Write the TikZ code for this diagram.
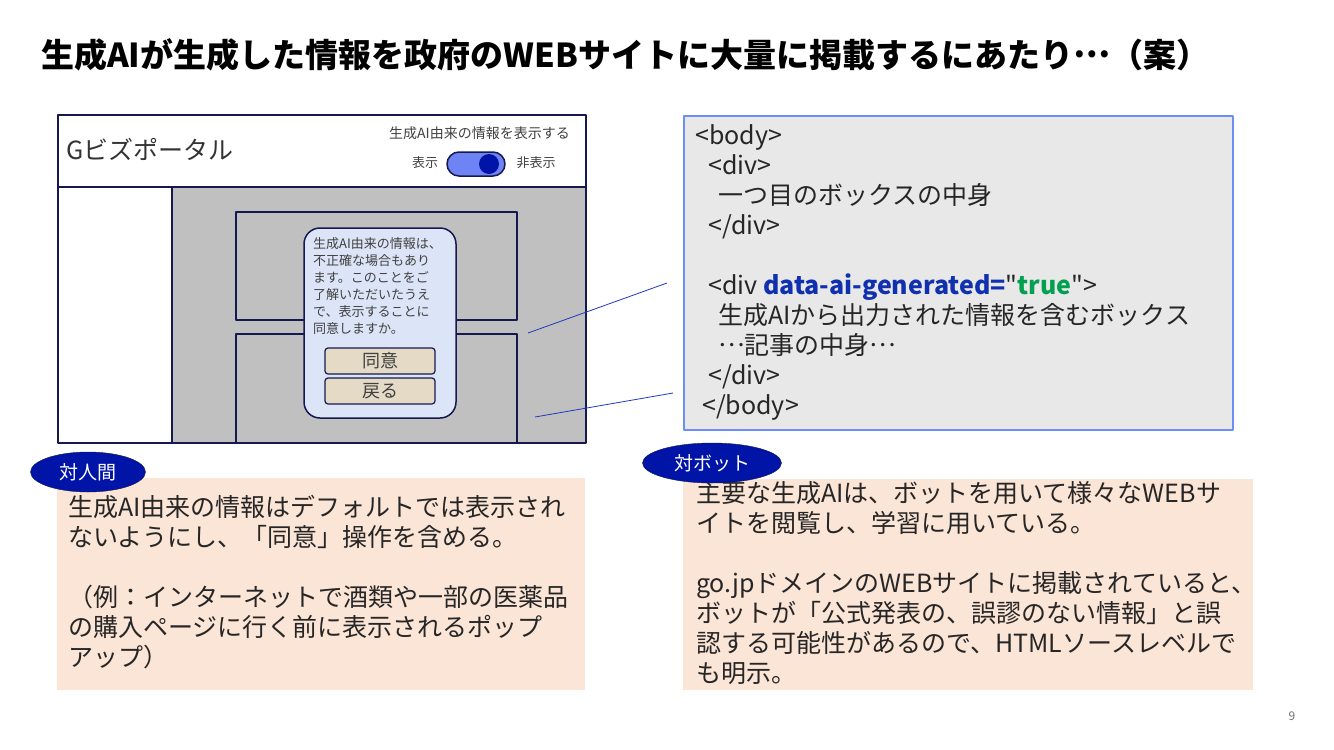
\documentclass[tikz,border=0pt]{standalone}
\usepackage{fontspec}
\setmainfont{Noto Sans CJK JP}[Ligatures=TeXOff]
\usetikzlibrary{shapes.geometric}
\definecolor{ink}{HTML}{262626}
\definecolor{navy}{HTML}{16194F}
\definecolor{panel}{HTML}{C0C0C0}
\definecolor{popfill}{HTML}{DCE5F7}
\definecolor{tan}{HTML}{E4DAC6}
\definecolor{toggleblue}{HTML}{6F84F4}
\definecolor{deepblue}{HTML}{0014A8}
\definecolor{codegray}{HTML}{E8E8E8}
\definecolor{codeedge}{HTML}{6D8EF2}
\definecolor{codeblue}{HTML}{1030B0}
\definecolor{codegreen}{HTML}{00A050}
\definecolor{peach}{HTML}{FBE5D6}
\definecolor{wire}{HTML}{2038C0}
\newcommand\zenellip{\raisebox{0.3em}{…}}

\begin{document}
\begin{tikzpicture}[x=1pt,y=-1pt,text=ink,line join=round,
    frame/.style={draw=navy,line width=1.5pt},
    popup/.style={draw=navy,line width=1.5pt,fill=popfill,rounded corners=16pt},
    button/.style={draw=navy,line width=1.2pt,fill=tan,rounded corners=3pt,
      minimum width=110pt,minimum height=26pt,inner sep=0pt,
      font=\fontsize{18}{20}\selectfont,text=black!75},
    tag/.style={ellipse,draw=navy,fill=deepblue,text=white,inner sep=0pt,
      font=\fontsize{19}{22}\selectfont},
    note/.style={fill=peach,inner sep=0pt},
    notetext/.style={anchor=north west,align=left,inner sep=0pt,
      font=\fontsize{25}{30}\selectfont},
    wireline/.style={wire,line width=0.8pt}]
  \useasboundingbox (0,0) rectangle (1334,750);

  \node[anchor=west,inner sep=0pt,text=black,font=\bfseries\fontsize{33}{38}\selectfont]
    (title) at (41,55)
    {生成AIが生成した情報を政府のWEBサイトに大量に掲載するにあたり\zenellip（案）};

  % mock-up of the portal page
  \fill[panel] (172,187) rectangle (586,443);
  \draw[frame] (236,212) rectangle (517,320);
  \draw[frame] (236,334) rectangle (517,443);
  \draw[frame] (172,187) -- (172,443);
  \node[draw=navy,line width=2pt,minimum width=528pt,minimum height=328pt,inner sep=0pt]
    (portal) at (322,279) {};
  \draw[navy,line width=2pt] (portal.west |- 0,187) -- (portal.east |- 0,187);

  \node[anchor=west,inner sep=0pt,font=\fontsize{25}{28}\selectfont,text=black!80]
    (portalname) at (66,149) {Gビズポータル};
  \node[anchor=east,inner sep=0pt,font=\fontsize{14}{16}\selectfont,text=black!75]
    (switchcap) at (570,133) {生成AI由来の情報を表示する};
  \node[inner sep=0pt,font=\fontsize{13}{15}\selectfont,text=black!75]
    (showlabel) at (425,163) {表示};
  \node[inner sep=0pt,font=\fontsize{13}{15}\selectfont,text=black!75]
    (hidelabel) at (536,163) {非表示};
  \node[draw=navy,line width=1.5pt,fill=toggleblue,rounded corners=12pt,
    minimum width=58pt,minimum height=24pt,inner sep=0pt] (toggle) at (476,164) {};
  \node[circle,fill=deepblue,minimum size=20pt,inner sep=0pt] (knob) at (489,164) {};

  \node[popup,minimum width=152pt,minimum height=190pt] (popup) at (380,323) {};
  \node[anchor=north west,align=left,inner sep=0pt,
    font=\fontsize{13}{17}\selectfont,text=black!75] (popupmsg) at (313,237.5)
    {生成AI由来の情報は、\\不正確な場合もあり\\ます。このことをご\\
     了解いただいたうえ\\で、表示することに\\同意しますか。};
  \node[button] (agree) at (380,361) {同意};
  \node[button] (goback) at (380,391) {戻る};

  % html source
  \node[draw=codeedge,line width=1.5pt,fill=codegray,minimum width=549pt,
    minimum height=314pt,inner sep=0pt] (code) at (958.5,273) {};
  \node[anchor=north west,align=left,inner sep=0pt,
    font=\fontsize{25}{30}\selectfont] (codetext) at (695,124)
    {<body>\\
     \hspace*{13pt}<div>\\
     \hspace*{23pt}一つ目のボックスの中身\\
     \hspace*{13pt}</div>\\[30pt]
     \hspace*{13pt}<div {\color{codeblue}\bfseries data-ai-generated=}"{\color{codegreen}\bfseries true}">\\
     \hspace*{23pt}生成AIから出力された情報を含むボックス\\
     \hspace*{23pt}\zenellip 記事の中身\zenellip\\
     \hspace*{13pt}</div>\\
     \hspace*{7pt}</body>};

  \coordinate (firstfrom) at (528,333);
  \coordinate (firstto) at (667,283);
  \coordinate (secondfrom) at (535,417);
  \coordinate (secondto) at (673,393);
  \draw[wireline] (firstfrom) -- (firstto);
  \draw[wireline] (secondfrom) -- (secondto);

  % notes
  \node[note,minimum width=528pt,minimum height=212pt] (humannote) at (321,584) {};
  \node[notetext] (humantext) at (68,495)
    {生成AI由来の情報はデフォルトでは表示され\\
     ないようにし、「同意」操作を含める。\\[30pt]
     （例：インターネットで酒類や一部の医薬品\\
     の購入ページに行く前に表示されるポップ\\
     アップ）};
  \node[tag,minimum width=115pt,minimum height=40pt] (human) at (88,472) {対人間};

  \node[note,minimum width=570pt,minimum height=211pt] (botnote) at (968,584.5) {};
  \node[notetext] (bottext) at (696,481)
    {主要な生成AIは、ボットを用いて様々なWEBサ\\
     イトを閲覧し、学習に用いている。\\[30pt]
     go.jpドメインのWEBサイトに掲載されていると、\\
     ボットが「公式発表の、誤謬のない情報」と誤\\
     認する可能性があるので、HTMLソースレベルで\\
     も明示。};
  \node[tag,minimum width=139pt,minimum height=40pt] (bot) at (712,463) {対ボット};

  \node[inner sep=0pt,font=\fontsize{12}{14}\selectfont,text=black!55]
    (pagenum) at (1292,716) {9};
\end{tikzpicture}
\end{document}
